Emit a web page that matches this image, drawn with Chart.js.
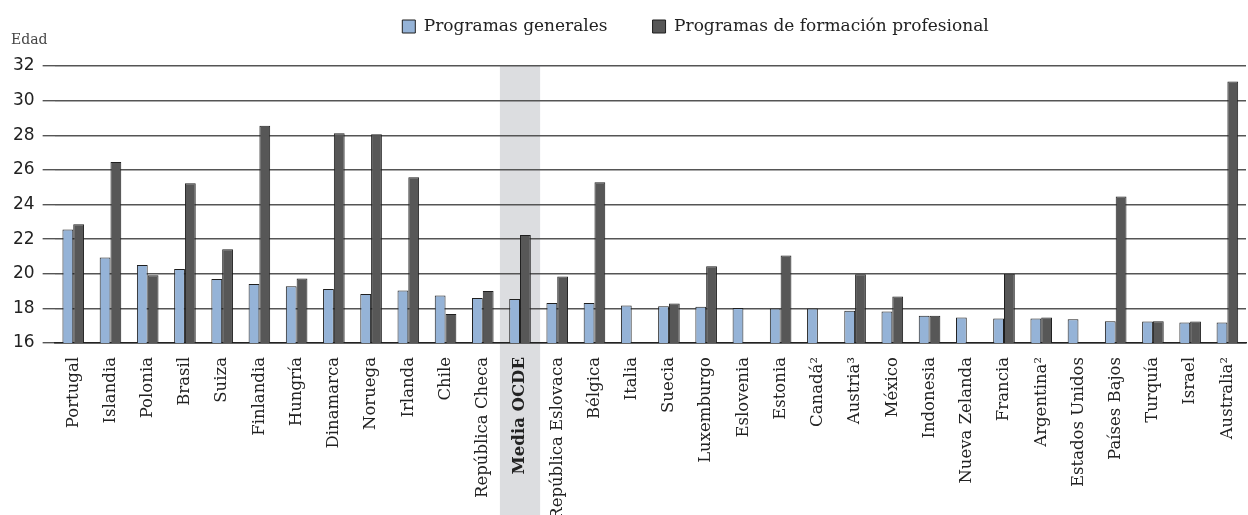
<!DOCTYPE html>
<html>
<head>
<meta charset="utf-8">
<script src="https://cdn.jsdelivr.net/npm/chart.js@4.4.1/dist/chart.umd.min.js"></script>
<style>
  html, body { margin: 0; padding: 0; background: #fff; }
  #wrap { width: 1248px; height: 515px; position: relative; }
</style>
</head>
<body>
<div id="wrap"><canvas id="chart"></canvas></div>
<script>
const paises = [
    'Portugal', 'Islandia', 'Polonia', 'Brasil', 'Suiza', 'Finlandia', 'Hungría', 'Dinamarca',
    'Noruega', 'Irlanda', 'Chile', 'República Checa', 'Media OCDE', 'República Eslovaca', 'Bélgica',
    'Italia', 'Suecia', 'Luxemburgo', 'Eslovenia', 'Estonia', 'Canadá²', 'Austria³', 'México',
    'Indonesia', 'Nueva Zelanda', 'Francia', 'Argentina²', 'Estados Unidos', 'Países Bajos',
    'Turquía', 'Israel', 'Australia²'
];
const generales = [
    22.55, 20.94, 20.51, 20.28, 19.70, 19.41, 19.28, 19.12,
    18.83, 19.03, 18.74, 18.60, 18.54, 18.31, 18.31,
    18.16, 18.12, 18.10, 18.02, 17.99, 17.99, 17.87, 17.82,
    17.58, 17.47, 17.41, 17.41, 17.37, 17.25,
    17.24, 17.18, 17.18
];
const profesional = [
    22.86, 26.45, 19.91, 25.23, 21.42, 28.55, 19.72, 28.12,
    28.06, 25.58, 17.68, 19.01, 22.24, 19.84, 25.29,
    null, 18.28, 20.43, null, 21.05, null, 19.97, 18.68,
    17.58, null, 20.00, 17.47, null, 24.46,
    17.25, 17.24, 31.10
];
const yTicks = [16, 18, 20, 22, 24, 26, 28, 30, 32];
const mediaIndex = paises.indexOf('Media OCDE');

const serif = 'DejaVu Serif';

// banda gris detrás de la media OCDE
const bandaMedia = {
    id: 'bandaMedia',
    beforeDraw(chart) {
        const x = chart.scales.x;
        const w = (x.getPixelForValue(1) - x.getPixelForValue(0)) * 1.08;
        const cx = x.getPixelForValue(mediaIndex);
        const ctx = chart.ctx;
        ctx.save();
        ctx.fillStyle = '#dcdde0';
        ctx.fillRect(cx - w / 2, chart.chartArea.top, w, chart.height - chart.chartArea.top);
        ctx.restore();
    }
};

const etiquetaEdad = {
    id: 'etiquetaEdad',
    afterLayout(chart) {
        // la leyenda va desplazada a la derecha y pegada arriba
        chart.legend.left += 70;
        chart.legend.right += 70;
        chart.legend.top -= 21;
        chart.legend.bottom -= 21;
    },
    afterDraw(chart) {
        const ctx = chart.ctx;
        ctx.save();
        ctx.font = '14px "' + serif + '"';
        ctx.fillStyle = '#444';
        ctx.textBaseline = 'middle';
        ctx.fillText('Edad', 11, 40);
        ctx.restore();
    }
};

new Chart(document.getElementById('chart'), {
    type: 'bar',
    data: {
        labels: paises,
        datasets: [{
            label: 'Programas generales',
            data: generales,
            backgroundColor: '#95b3d7',
            borderColor: '#1f1f1f',
            borderWidth: 1
        }, {
            label: 'Programas de formación profesional',
            data: profesional,
            backgroundColor: '#575757',
            borderColor: '#1f1f1f',
            borderWidth: 1
        }]
    },
    options: {
        responsive: true,
        maintainAspectRatio: false,
        animation: false,
        datasets: {
            bar: { categoryPercentage: 0.58, barPercentage: 1 }
        },
        layout: { padding: { left: 5, right: 2, top: -6, bottom: 0 } },
        plugins: {
            tooltip: { enabled: false },
            legend: {
                position: 'top',
                align: 'center',
                labels: {
                    boxWidth: 13,
                    boxHeight: 13,
                    padding: 45,
                    color: '#222',
                    font: { family: serif, size: 17 }
                }
            }
        },
        scales: {
            x: {
                grid: { display: false },
                border: { display: true, color: '#222', width: 1.5 },
                ticks: {
                    autoSkip: false,
                    maxRotation: 90,
                    minRotation: 90,
                    padding: 6,
                    color: '#222',
                    font: (c) => ({ family: serif, size: 16.5, weight: c.index === mediaIndex ? 'bold' : 'normal' })
                },
                afterFit: (axis) => {
                    axis.height = 172;
                    axis.paddingLeft = 0;
                    axis.paddingRight = 0;
                }
            },
            y: {
                min: 16,
                max: 32,
                afterBuildTicks: (axis) => { axis.ticks = yTicks.map(v => ({ value: v })); },
                grid: { color: '#555', lineWidth: 1.4, tickLength: 12 },
                border: { display: false },
                ticks: {
                    padding: 8,
                    color: '#222',
                    font: { family: 'DejaVu Sans', size: 17 }
                }
            }
        }
    },
    plugins: [bandaMedia, etiquetaEdad]
});
</script>
</body>
</html>
